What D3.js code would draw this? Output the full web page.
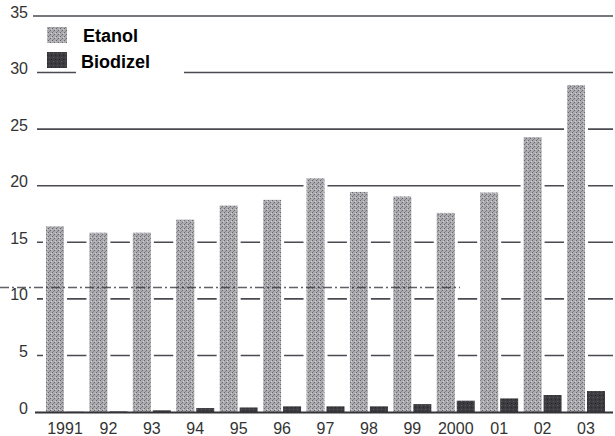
<!DOCTYPE html>
<html>
<head>
<meta charset="utf-8">
<script src="https://cdn.jsdelivr.net/npm/d3@7/dist/d3.min.js"></script>
<style>
  html, body { margin: 0; padding: 0; background: #fff; }
  svg { display: block; font-family: "Liberation Sans", Arial, sans-serif; }
</style>
</head>
<body>
<svg id="chart" width="615" height="436"></svg>
<script>
const years = ["1991","92","93","94","95","96","97","98","99","2000","01","02","03"];
const etanol = [16.4, 15.85, 15.85, 17.0, 18.25, 18.75, 20.65, 19.45, 19.05, 17.6, 19.4, 24.3, 28.9];
const biodizel = [0.02, 0.05, 0.15, 0.35, 0.4, 0.5, 0.5, 0.5, 0.7, 1.0, 1.2, 1.5, 1.85];
const seriesNames = ["Etanol", "Biodizel"];
const yTicks = [0, 5, 10, 15, 20, 25, 30, 35];

const svg = d3.select("#chart");

// patterns to imitate the scanned texture
const defs = svg.append("defs");
const p1 = defs.append("pattern").attr("id","patE").attr("width",4).attr("height",4).attr("patternUnits","userSpaceOnUse");
p1.append("rect").attr("width",4).attr("height",4).attr("fill","#acacb0");
p1.append("rect").attr("x",0).attr("y",0).attr("width",1).attr("height",1).attr("fill","#68686f");
p1.append("rect").attr("x",2).attr("y",2).attr("width",1).attr("height",1).attr("fill","#68686f");
p1.append("rect").attr("x",1).attr("y",3).attr("width",1).attr("height",1).attr("fill","#85858c");
p1.append("rect").attr("x",3).attr("y",1).attr("width",1).attr("height",1).attr("fill","#cfcfd3");
const p2 = defs.append("pattern").attr("id","patB").attr("width",4).attr("height",4).attr("patternUnits","userSpaceOnUse");
p2.append("rect").attr("width",4).attr("height",4).attr("fill","#3c3c40");
p2.append("rect").attr("x",1).attr("y",1).attr("width",1).attr("height",1).attr("fill","#5e5e64");
p2.append("rect").attr("x",3).attr("y",3).attr("width",1).attr("height",1).attr("fill","#28282c");

const y = d3.scaleLinear().domain([0, 35]).range([412, 16]);
const x = d3.scaleBand().domain(years).range([46, 605]).paddingInner(0.125).paddingOuter(0);
const xs = d3.scaleBand().domain(seriesNames).range([0, x.bandwidth()]).paddingInner(0.1);

// gridlines
const grid = svg.append("g");
grid.selectAll("line").data(yTicks.filter(d => d > 0)).join("line")
  .attr("x1", d => d === 35 ? 33 : 37).attr("x2", 613)
  .attr("y1", d => y(d)).attr("y2", d => y(d))
  .attr("stroke", "#4a4a52").attr("stroke-width", 1.6);

// white halo around bars (cuts gridlines like in the scan)
const data = years.map((yr, i) => ({yr, e: etanol[i], b: biodizel[i]}));
svg.append("g").selectAll("rect").data(data).join("rect")
  .attr("x", d => x(d.yr) - 3)
  .attr("width", xs.bandwidth() + 6)
  .attr("y", d => y(d.e) - 3)
  .attr("height", d => y(0) - y(d.e) + 3)
  .attr("fill", "#fff");

// legend blocks the 30 line partially
svg.append("rect").attr("x", 76).attr("y", 68).attr("width", 108).attr("height", 10).attr("fill", "#fff");

// bars
svg.append("g").selectAll("rect").data(data).join("rect")
  .attr("x", d => x(d.yr) + xs("Etanol"))
  .attr("width", xs.bandwidth())
  .attr("y", d => y(d.e))
  .attr("height", d => y(0) - y(d.e))
  .attr("fill", "url(#patE)");
svg.append("g").selectAll("rect").data(data).join("rect")
  .attr("x", d => x(d.yr) + xs("Biodizel"))
  .attr("width", xs.bandwidth())
  .attr("y", d => y(d.b))
  .attr("height", d => y(0) - y(d.b))
  .attr("fill", "url(#patB)");

// scan artifact: dash line near 10
svg.append("line")
  .attr("x1", 0).attr("x2", 460)
  .attr("y1", y(11)).attr("y2", y(11))
  .attr("stroke", "#3a3a42").attr("stroke-width", 1.6)
  .attr("stroke-dasharray", "9,3,2,3").attr("opacity", 0.8);

// baseline
svg.append("line").attr("x1", 35).attr("x2", 613)
  .attr("y1", y(0) + 0.5).attr("y2", y(0) + 0.5)
  .attr("stroke", "#333338").attr("stroke-width", 2);

// y axis labels
const yAxis = d3.axisLeft(y).tickValues(yTicks).tickSize(0).tickPadding(0).tickFormat(d3.format("d"));
const ya = svg.append("g").attr("transform", "translate(28,-4)").call(yAxis);
ya.select(".domain").remove();
ya.selectAll("text").attr("font-size", 16).attr("fill", "#333").attr("font-family", "Liberation Sans, Arial, sans-serif");

// x axis labels
const xAxis = d3.axisBottom(x).tickSize(0).tickPadding(0);
const xa = svg.append("g").attr("transform", "translate(0,423)").call(xAxis);
xa.select(".domain").remove();
xa.selectAll("text").attr("font-size", 16).attr("fill", "#333").attr("font-family", "Liberation Sans, Arial, sans-serif");

// legend
const legend = svg.append("g");
const legItems = [
  {name: "Etanol", fill: "url(#patE)", sy: 27, tx: 83, ty: 42},
  {name: "Biodizel", fill: "url(#patB)", sy: 52, tx: 81, ty: 68}
];
legend.selectAll("rect").data(legItems).join("rect")
  .attr("x", 47).attr("y", d => d.sy).attr("width", 20).attr("height", 16)
  .attr("fill", d => d.fill);
legend.selectAll("text").data(legItems).join("text")
  .attr("x", d => d.tx).attr("y", d => d.ty)
  .attr("font-size", 18).attr("font-weight", "bold").attr("fill", "#000")
  .text(d => d.name);
</script>
</body>
</html>
